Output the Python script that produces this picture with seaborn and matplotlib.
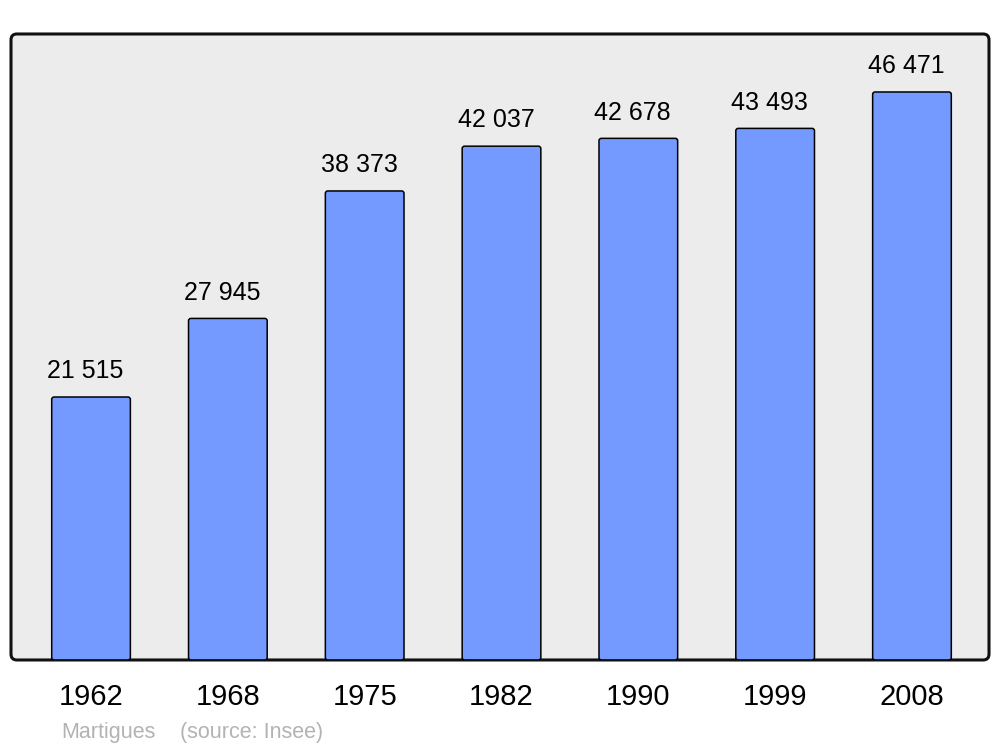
import numpy as np
import pandas as pd
import seaborn as sns
import matplotlib.pyplot as plt
from matplotlib.patches import FancyBboxPatch

years = ["1962", "1968", "1975", "1982", "1990", "1999", "2008"]
population = [21515, 27945, 38373, 42037, 42678, 43493, 46471]
labels = ["21 515", "27 945", "38 373", "42 037", "42 678", "43 493", "46 471"]

df = pd.DataFrame({"year": years, "pop": population})

sns.set_style("white")
plt.rcParams['font.family'] = ['Liberation Sans', 'DejaVu Sans']
plt.rcParams['text.color'] = 'black'
plt.rcParams['xtick.color'] = 'black'

fig = plt.figure(figsize=(10, 7.47), dpi=100)
ax = fig.add_axes([0.011, 0.1165, 0.978, 0.838])

sns.barplot(data=df, x="year", y="pop", color="#7499ff", saturation=1,
            width=0.575, edgecolor="black", linewidth=1.1, ax=ax)

ax.set_xlim(-0.585, 6.563)
ax.set_ylim(0, 51216)

# rounded bar corners
for p in list(ax.patches):
    x, y, w, h = p.get_x(), p.get_y(), p.get_width(), p.get_height()
    p.remove()
    ax.add_patch(FancyBboxPatch((x, y), w, h,
                                boxstyle="round,pad=0,rounding_size=0.018",
                                mutation_aspect=11000,
                                facecolor="#7499ff", edgecolor="black",
                                linewidth=1.1, zorder=2))

for i, (v, lab) in enumerate(zip(population, labels)):
    ax.annotate(lab, (i, v), xytext=(-4, 13.5), textcoords="offset points",
                ha="center", va="baseline", fontsize=18, color="black")

# background box with rounded corners instead of the normal frame
for s in ax.spines.values():
    s.set_visible(False)
ax.patch.set_visible(False)
bg = FancyBboxPatch((0, 0), 1, 1, boxstyle="round,pad=0,rounding_size=0.006",
                    mutation_aspect=978 / 626,
                    transform=ax.transAxes, facecolor="#ececec",
                    edgecolor="#111111", linewidth=2.2, zorder=0, clip_on=False)
ax.add_patch(bg)

ax.set_xlabel("")
ax.set_ylabel("")
ax.set_yticks([])
ax.tick_params(axis="x", length=0, pad=16.5, labelsize=21, labelcolor="black")

fig.text(0.061, 0.012, "Martigues", color="#b3b3b3", fontsize=15.5)
fig.text(0.180, 0.012, "(source: Insee)", color="#b3b3b3", fontsize=15.5)

plt.savefig("out.png", dpi=100)
